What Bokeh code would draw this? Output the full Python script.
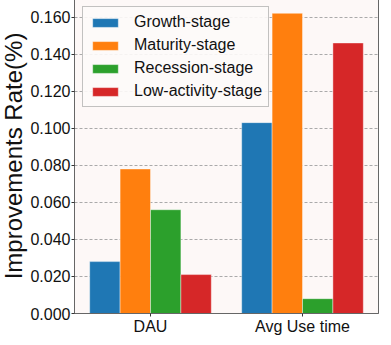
from bokeh.plotting import figure
from bokeh.models import ColumnDataSource, FixedTicker, NumeralTickFormatter, Range1d, Legend, LegendItem
from bokeh.transform import dodge
from bokeh.embed import file_html
from bokeh.resources import INLINE

categories = ["DAU", "Avg Use time"]
stages = ["Growth-stage", "Maturity-stage", "Recession-stage", "Low-activity-stage"]
growth = [0.028, 0.103]
maturity = [0.078, 0.162]
recession = [0.056, 0.008]
low_activity = [0.021, 0.146]
colors = ["#1f77b4", "#ff7f0e", "#2ca02c", "#d62728"]
y_ticks = [0.0, 0.02, 0.04, 0.06, 0.08, 0.10, 0.12, 0.14, 0.16]

src = ColumnDataSource(data=dict(
    x=list(range(len(categories))),
    growth=growth, maturity=maturity, recession=recession, low=low_activity,
))

FONT = "Liberation Sans"
p = figure(width=383, height=340, output_backend="svg", toolbar_location=None,
           x_range=Range1d(-0.5, 1.5), y_range=Range1d(0, 0.170),
           min_border_left=0, min_border_right=2, min_border_top=1, min_border_bottom=0,
           background_fill_color="#fdf8f7", border_fill_color="white")
p.styles = {"margin-left": "-3px", "margin-top": "-3px"}
p.outline_line_color = "#666666"
p.outline_line_width = 1

width = 0.2
offsets = [-0.3, -0.1, 0.1, 0.3]
fields = ["growth", "maturity", "recession", "low"]
items = []
for f, off, c, name in zip(fields, offsets, colors, stages):
    r = p.vbar(x=dodge("x", off), top=f, width=width, source=src,
               fill_color=c, line_color="white", line_alpha=0.5, line_width=0.8)
    items.append(LegendItem(label=name, renderers=[r]))

legend = Legend(items=items, location="top_left", margin=8, padding=6,
                glyph_width=32, glyph_height=11, label_height=18, spacing=5,
                label_standoff=13, label_text_font=FONT, label_text_font_size="16px",
                label_text_color="#111111",
                border_line_color="#888888", border_line_width=1,
                background_fill_color="#fdf9f8", background_fill_alpha=0.9)
p.add_layout(legend)

p.xaxis.ticker = FixedTicker(ticks=[0, 1])
p.xaxis.major_label_overrides = {0: categories[0], 1: categories[1]}
p.xaxis.axis_label = None
p.xaxis.axis_label_standoff = 0
p.yaxis.ticker = FixedTicker(ticks=y_ticks)
p.yaxis.formatter = NumeralTickFormatter(format="0.000")
p.yaxis.axis_label = "Improvements Rate(%)"
p.yaxis.axis_label_text_font = FONT
p.yaxis.axis_label_text_font_size = "24px"
p.yaxis.axis_label_text_font_style = "normal"
p.yaxis.axis_label_text_color = "#111111"
p.yaxis.axis_label_standoff = 0
for ax in (p.xaxis, p.yaxis):
    ax.major_label_text_font = FONT
    ax.major_label_text_font_size = "16px"
    ax.major_label_text_color = "#111111"
    ax.major_tick_out = 3
    ax.major_tick_in = 0
    ax.minor_tick_out = 0
    ax.minor_tick_in = 0
    ax.major_label_standoff = 1
    ax.axis_line_color = "#666666"
    ax.major_tick_line_color = "#333333"

p.xgrid.grid_line_color = None
p.ygrid.grid_line_color = "#aaaaaa"
p.ygrid.grid_line_dash = "3 2"
p.ygrid.grid_line_width = 1

open("out.html", "w").write(file_html(p, INLINE))
